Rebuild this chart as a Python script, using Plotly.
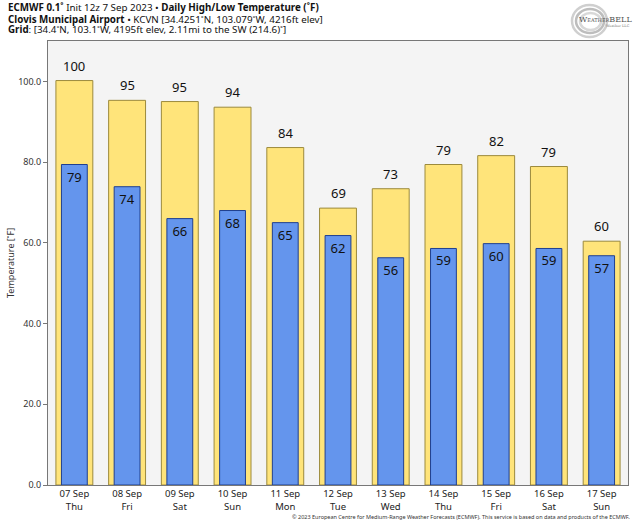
import plotly.graph_objects as go

dates = ["07 Sep<br>Thu", "08 Sep<br>Fri", "09 Sep<br>Sat", "10 Sep<br>Sun", "11 Sep<br>Mon",
         "12 Sep<br>Tue", "13 Sep<br>Wed", "14 Sep<br>Thu", "15 Sep<br>Fri", "16 Sep<br>Sat",
         "17 Sep<br>Sun"]
highs = [100.2, 95.3, 95.0, 93.6, 83.6, 68.6, 73.4, 79.4, 81.6, 78.9, 60.4]
lows = [79.4, 73.9, 66.0, 68.0, 65.0, 61.8, 56.3, 58.6, 59.8, 58.6, 56.8]
yticks = [0, 20, 40, 60, 80, 100]

FONT = "Noto Sans, Open Sans, sans-serif"
PW, PH = 580, 444  # plot area in px


def px_x(px):
    return (px - 48) / PW


def px_y(py):
    return (485 - py) / PH


fig = go.Figure()
fig.add_trace(go.Bar(
    x=dates, y=highs, width=0.70,
    marker=dict(color="#FFE47A", line=dict(color="#9c8a3c", width=1)),
    hoverinfo="skip",
))
fig.add_trace(go.Bar(
    x=dates, y=lows, width=0.49,
    marker=dict(color="#6495ED", line=dict(color="#1f3f8f", width=1)),
    text=[f"{int(v + 0.5)}" for v in lows], textposition="inside", insidetextanchor="end",
    textfont=dict(size=13, color="#111", family=FONT), textangle=0,
    hoverinfo="skip",
))
for d, v in zip(dates, highs):
    fig.add_annotation(x=d, y=v, text=f"{int(v + 0.5)}", showarrow=False, yshift=15,
                       font=dict(size=13, color="#111", family=FONT))

fig.update_layout(
    width=640, height=526,
    margin=dict(l=48, r=12, t=41, b=41, autoexpand=False),
    barmode="overlay",
    showlegend=False,
    paper_bgcolor="white",
    plot_bgcolor="#F4F4F4",
    font=dict(family=FONT, color="#222"),
)
fig.update_xaxes(
    showgrid=False, showline=True, linecolor="#777", linewidth=1, mirror=True,
    ticks="", tickfont=dict(size=9.5, color="#222", family=FONT),
    range=[-0.5, 10.5], automargin=False,
)
fig.update_yaxes(
    range=[0, 110], tickvals=yticks, ticktext=[f"{v:.1f}" for v in yticks],
    showgrid=False, showline=True, linecolor="#777", linewidth=1, mirror=True,
    ticks="outside", ticklen=4, tickcolor="#777",
    tickfont=dict(size=9, color="#333", family=FONT),
    zeroline=False, automargin=False,
)

fig.add_annotation(text="Temperature [˚F]", xref="paper", yref="paper", x=px_x(10), y=0.5,
                   textangle=-90, showarrow=False, xanchor="center", yanchor="middle",
                   font=dict(size=9, color="#333", family=FONT))

title_lines = [
    "<b>ECMWF 0.1˚</b> Init 12z 7 Sep 2023 • <b>Daily High/Low Temperature (˚F)</b>",
    "<b>Clovis Municipal Airport</b> • KCVN [34.4251˚N, 103.079˚W, 4216ft elev]",
    "<b>Grid</b>: [34.4˚N, 103.1˚W, 4195ft elev, 2.11mi to the SW (214.6)˚]",
]
for i, t in enumerate(title_lines):
    fig.add_annotation(text=t, xref="paper", yref="paper", x=px_x(6), y=px_y(8 + 11 * i),
                       xanchor="left", yanchor="middle", showarrow=False,
                       font=dict(size=9.8, color="#111", family=FONT))

# logo
for (x0, x1, y0, y1, c) in [(572, 607, 5, 37, "#cfcfcf"), (576, 604, 9, 33, "#bdbdbd"),
                            (580, 601, 13, 30, "#d8d8d8")]:
    fig.add_shape(type="circle", xref="paper", yref="paper",
                  x0=px_x(x0), x1=px_x(x1), y0=px_y(y1), y1=px_y(y0),
                  line=dict(color=c, width=2.5))
fig.add_annotation(text="W<span style='font-size:5px'>EATHER</span>BELL", xref="paper", yref="paper",
                   x=px_x(634), y=px_y(19), xanchor="right", yanchor="middle", showarrow=False,
                   font=dict(size=8, color="#555", family="DejaVu Serif"))
fig.add_annotation(text="Weather LLC", xref="paper", yref="paper",
                   x=px_x(632), y=px_y(26), xanchor="right", yanchor="middle", showarrow=False,
                   font=dict(size=3.5, color="#777", family="DejaVu Serif"))

fig.add_annotation(text="© 2023 European Centre for Medium-Range Weather Forecasts (ECMWF). This service is based on data and products of the ECMWF.",
                   xref="paper", yref="paper", x=px_x(632), y=px_y(517), xanchor="right", yanchor="middle",
                   showarrow=False, font=dict(size=5.5, color="#333", family=FONT))

fig.write_html("out.html", config={"displayModeBar": False},
               post_script="document.body.style.margin='0';")
